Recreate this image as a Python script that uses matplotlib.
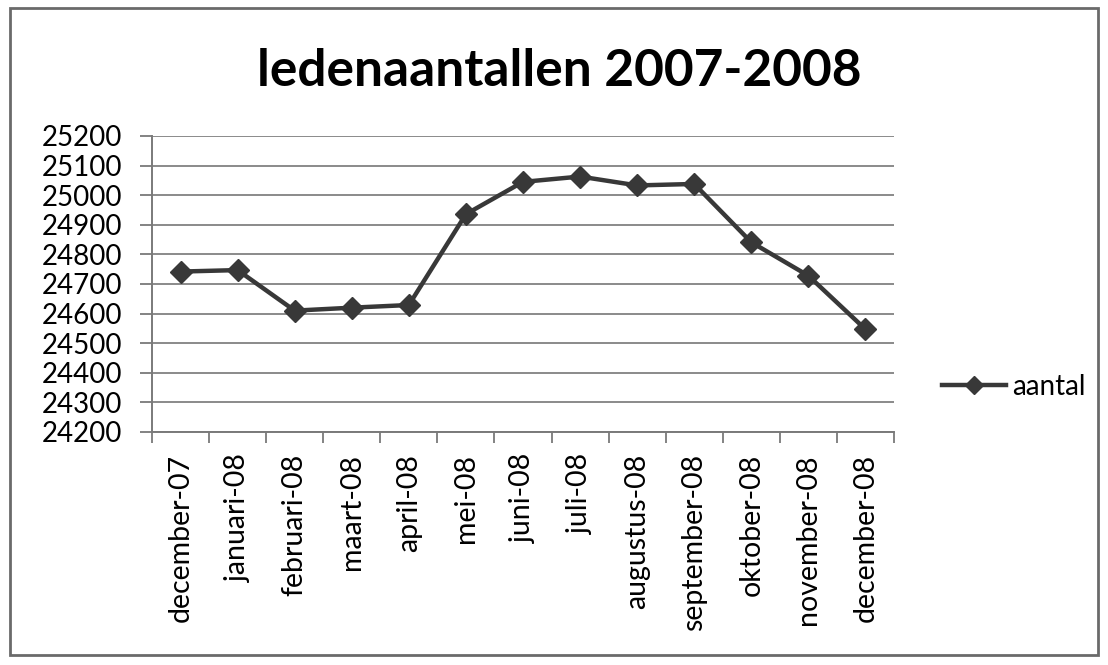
import matplotlib
matplotlib.use("Agg")
import matplotlib.pyplot as plt
from matplotlib.patches import Rectangle

plt.rcParams['font.family'] = ['Lato', 'DejaVu Sans']

months = ["december-07", "januari-08", "februari-08", "maart-08", "april-08",
          "mei-08", "juni-08", "juli-08", "augustus-08", "september-08",
          "oktober-08", "november-08", "december-08"]
aantal = [24742, 24747, 24610, 24620, 24629, 24936, 25045, 25063, 25033,
          25038, 24841, 24728, 24547]
yticks = list(range(24200, 25201, 100))
title = "ledenaantallen 2007-2008"
series_name = "aantal"

fig = plt.figure(figsize=(11.08, 6.65), dpi=100)
ax = fig.add_axes([152/1108, 1-432/665, 742/1108, 296/665])

x = list(range(len(months)))
ax.plot(x, aantal, color='#383838', linewidth=3.2, marker='D', markersize=11,
        markerfacecolor='#383838', markeredgecolor='#383838', label=series_name,
        zorder=3)

ax.set_xlim(-0.5, len(months) - 0.5)
ax.set_ylim(24200, 25200)
ax.set_yticks(yticks)
ax.set_yticklabels([str(v) for v in yticks], fontsize=20)
ax.set_xticks(x)
ax.set_xticklabels(months, rotation=90, fontsize=20.5)
ax.tick_params(axis='x', which='major', length=0, pad=16)
ax.set_xticks([i - 0.5 for i in range(len(months) + 1)], minor=True)
ax.tick_params(axis='x', which='minor', length=8, width=1.3, color='#7a7a7a', direction='out')
ax.tick_params(axis='y', length=8.5, width=1.3, color='#7a7a7a', direction='out', pad=13)

ax.grid(axis='y', color='#8a8a8a', linewidth=1.4)
ax.set_axisbelow(True)
for s in ['top', 'right']:
    ax.spines[s].set_visible(False)
for s in ['left', 'bottom']:
    ax.spines[s].set_color('#7a7a7a')
    ax.spines[s].set_linewidth(1.4)

fig.text(559/1108, 1-71/665, title, ha='center', va='center', fontsize=37,
         fontweight='bold')

leg = ax.legend(loc='center left', bbox_to_anchor=(1.05, 0.152), frameon=False,
                fontsize=20, handlelength=2.3, handletextpad=0.2, borderaxespad=0,
                markerscale=0.85)

fig.patches.append(Rectangle((10/1108, 1-655/665), 1088/1108, 647/665,
                             transform=fig.transFigure, fill=False,
                             edgecolor='#6a6a6a', linewidth=2))

fig.savefig('out.png', dpi=100, facecolor='white')
